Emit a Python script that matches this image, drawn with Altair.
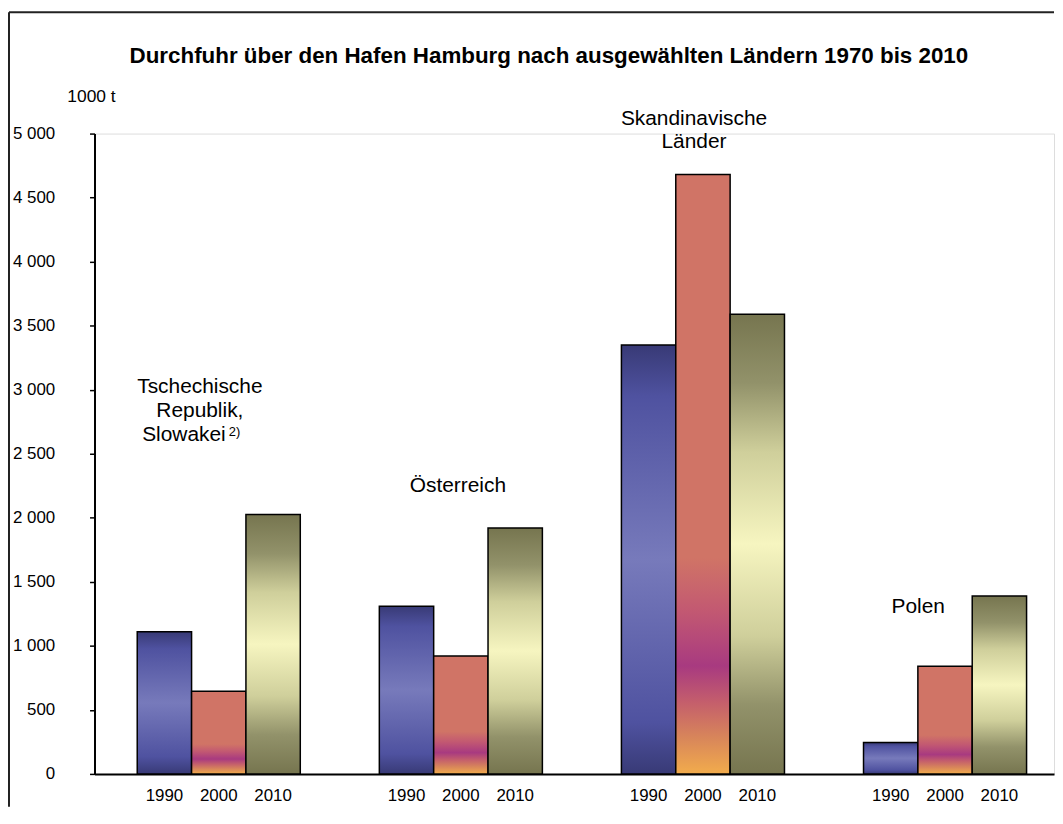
import altair as alt
import pandas as pd

# ---- data ----
countries = ["Tschechische Republik, Slowakei", "Österreich", "Skandinavische Länder", "Polen"]
years = ["1990", "2000", "2010"]
v1990 = [1110, 1310, 3350, 245]
v2000 = [645, 920, 4680, 840]
v2010 = [2025, 1920, 3590, 1390]
y_ticks = [0, 500, 1000, 1500, 2000, 2500, 3000, 3500, 4000, 4500, 5000]

title_text = "Durchfuhr über den Hafen Hamburg nach ausgewählten Ländern 1970 bis 2010"
unit_text = "1000 t"

rows = []
for i, c in enumerate(countries):
    rows.append({"country": c, "year": "1990", "value": v1990[i]})
    rows.append({"country": c, "year": "2000", "value": v2000[i]})
    rows.append({"country": c, "year": "2010", "value": v2010[i]})
df = pd.DataFrame(rows)

W, H = 965, 644
FONT = "Liberation Sans"

xscale = alt.Scale(domain=countries, paddingInner=0.3265, paddingOuter=0.1449, align=0.609)
xoff = alt.Scale(domain=years, paddingInner=0, paddingOuter=0)
yscale = alt.Scale(domain=[0, 5000], nice=False)

def grad(stops):
    return alt.Gradient(
        gradient="linear",
        stops=[alt.GradientStop(offset=o, color=c) for o, c in stops],
        x1=0, x2=0, y1=0, y2=1,
    )

g_blue = grad([(0, "#383a76"), (0.12, "#4f52a0"), (0.5, "#777abb"), (0.88, "#4f52a0"), (1, "#383a76")])
g_red = grad([(0, "#d07466"), (0.64, "#d07466"), (0.73, "#c25872"), (0.82, "#a83a80"),
              (0.88, "#c45e6c"), (0.94, "#d8865a"), (1, "#f2ac4c")])
g_olive = grad([(0, "#76754f"), (0.15, "#92926a"), (0.3, "#cfcf9b"), (0.5, "#f6f5c0"),
                (0.7, "#cfcf9b"), (0.85, "#92926a"), (1, "#76754f")])

base = alt.Chart(df).encode(
    x=alt.X("country:N", scale=xscale,
            axis=alt.Axis(labels=False, ticks=False, title=None, domainColor="black", domainWidth=2)),
    xOffset=alt.XOffset("year:N", scale=xoff),
)

def bars(year, g):
    return base.transform_filter(alt.datum.year == year).mark_bar(
        fill=g, stroke="black", strokeWidth=1.5
    ).encode(
        y=alt.Y("value:Q", scale=yscale,
                axis=alt.Axis(values=y_ticks, title=None, grid=False, tickSize=5, tickColor="black",
                              tickWidth=1.5, domainColor="black", domainWidth=2,
                              labelFontSize=17, labelColor="black", labelPadding=35, labelFont=FONT,
                              labelExpr="replace(format(datum.value, ','), ',', ' ')"))
    )

b1 = bars("1990", g_blue)
b2 = bars("2000", g_red)
b3 = bars("2010", g_olive)

year_labels = base.mark_text(font=FONT, fontSize=17, baseline="alphabetic", dy=27, color="black").encode(
    y=alt.datum(0), text="year:N"
)

def label(country, text, yv, dx, size=21, align="center"):
    d = pd.DataFrame({"country": [country], "text": [text], "yv": [yv]})
    return alt.Chart(d).mark_text(
        font=FONT, fontSize=size, align=align, baseline="alphabetic", dx=dx,
        lineBreak="\n", lineHeight=24, color="black"
    ).encode(
        x=alt.X("country:N", scale=xscale),
        y=alt.Y("yv:Q", scale=yscale),
        text="text:N",
    )

labels = [
    label(countries[0], "Tschechische\nRepublik,", 2974, -19),
    label(countries[0], "Slowakei", 2601, -35),
    label(countries[0], "2)", 2635, 10, size=13, align="left"),
    label(countries[1], "Österreich", 2205, -3),
    label(countries[2], "Skandinavische\nLänder", 5070, -9),
    label(countries[3], "Polen", 1258, -27),
]

one = pd.DataFrame({"t": [title_text]})
title = alt.Chart(one).mark_text(font=FONT, fontSize=22.5, fontWeight="bold", baseline="alphabetic",
                                 align="center", color="black").encode(
    x=alt.value(457), y=alt.value(-71), text="t:N")

unit = alt.Chart(pd.DataFrame({"t": [unit_text]})).mark_text(
    font=FONT, fontSize=17.5, baseline="alphabetic", align="center", color="black").encode(
    x=alt.value(-3), y=alt.value(-32), text="t:N")

frame_left = alt.Chart(one).mark_rule(color="#222222", strokeWidth=2).encode(
    x=alt.value(-86), y=alt.value(-122), y2=alt.value(H + 33))
frame_top = alt.Chart(one).mark_rule(color="#222222", strokeWidth=2).encode(
    x=alt.value(-86), x2=alt.value(W), y=alt.value(-122))

chart = alt.layer(frame_left, frame_top, b1, b2, b3, year_labels, *labels, title, unit).properties(
    width=W, height=H, padding={"left": 0, "top": 1, "right": 0, "bottom": 0}
).configure_view(stroke=None).configure(font=FONT)

chart.save("out.html", embed_options={"renderer": "svg", "actions": False})
